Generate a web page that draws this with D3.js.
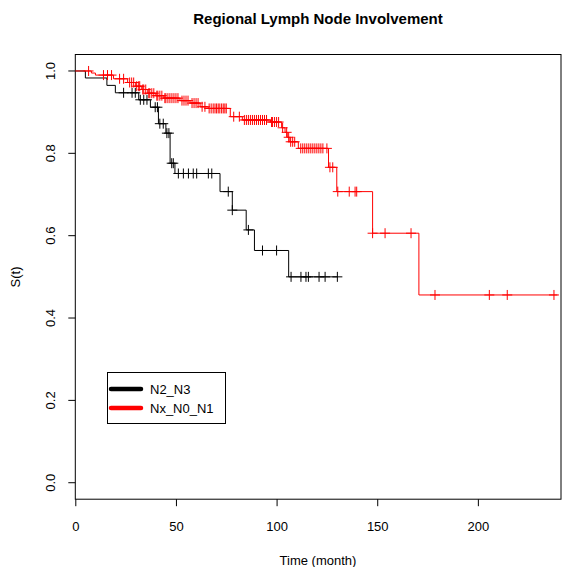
<!DOCTYPE html>
<html><head><meta charset="utf-8">
<script src="https://cdn.jsdelivr.net/npm/d3@7"></script>
<style>body{margin:0;background:#fff}svg{display:block}text{font-family:"Liberation Sans",Arial,sans-serif}</style>
</head><body><svg id="c" width="567" height="567"></svg>
<script>
const seriesNames = ["N2_N3", "Nx_N0_N1"];
const seriesColors = ["#000000", "#ff0000"];
// Kaplan-Meier steps: time of event, survival after the event
const blackTimes = [0, 5, 15.7, 19.9, 31.5, 37.3, 41.3, 45, 47.1, 49.5, 71.9, 78, 84.9, 89, 106];
const blackSurv  = [1, 0.983, 0.965, 0.947, 0.930, 0.912, 0.872, 0.849, 0.776, 0.751, 0.707, 0.662, 0.614, 0.564, 0.500];
const blackEnd = 130.2;
const blackCensor = [24, 28.2, 29.8, 32.3, 34, 35.6, 39.7, 40.8, 42, 43.7, 45.5, 46.5, 47.9, 48.7, 51.2, 53.7, 56.2, 58.6, 60.3, 66.1, 67.8, 76, 78, 86, 93, 100, 107.2, 112.1, 114.6, 115.8, 121.1, 124.1, 130.2];

const redTimes = [0, 8, 10, 19, 26, 30, 33, 36, 40, 44, 52, 57, 62, 66, 77, 83, 97, 102.5, 104.2, 105.3, 106.6, 110.8, 125.8, 129.9, 147.7, 170.7];
const redSurv  = [1, 0.995, 0.990, 0.981, 0.972, 0.963, 0.955, 0.946, 0.940, 0.934, 0.928, 0.922, 0.913, 0.909, 0.889, 0.881, 0.876, 0.862, 0.851, 0.839, 0.828, 0.812, 0.766, 0.707, 0.606, 0.456];
const redEnd = 239.5;
const redCensor = [6.6, 14, 16, 18, 22, 24, 27, 28, 29, 30.5, 31.5, 32, 33.5, 34, 35, 36.5, 37, 38, 39, 40.5, 41, 42, 43, 44.5, 45, 46, 47, 48, 49, 50, 51, 53, 54, 55, 56, 58, 59, 60, 61, 63, 64.4, 66.5, 67.5, 68.5, 69.4, 70.2, 71, 71.8, 72.7, 73.5, 74.3, 75, 78.7, 81.5, 84, 85, 86, 87, 88, 89, 90, 91, 92, 93, 94, 95, 97.5, 98, 99, 100, 101, 103, 105, 106, 107, 108, 109, 112, 113, 114, 115, 116, 117, 118, 119, 120, 121, 122, 123, 125, 126.5, 127.9, 130.4, 136.1, 139, 139.8, 147.7, 153.9, 166.8, 178.7, 205.7, 214.6, 237.8];

const xTicks = [0, 50, 100, 150, 200];
const yTicks = [0, 0.2, 0.4, 0.6, 0.8, 1.0];

const svg = d3.select("#c");
const x = d3.scaleLinear().domain([0, 241.3]).range([75.3, 561]);
const y = d3.scaleLinear().domain([-0.04, 1.04]).range([499.2, 54.5]);

// box
svg.append("rect").attr("x", 75.3).attr("y", 54.5).attr("width", 561 - 75.3).attr("height", 499.2 - 54.5)
  .attr("fill", "none").attr("stroke", "#000").attr("stroke-width", 1);

// axes
const gx = svg.append("g").attr("transform", "translate(0,499.2)")
  .call(d3.axisBottom(x).tickValues(xTicks).tickSize(7).tickPadding(16).tickFormat(d3.format("d")));
gx.select(".domain").remove();
gx.selectAll("text").attr("font-size", 13).attr("fill", "#000");

const gy = svg.append("g").attr("transform", "translate(75.3,0)")
  .call(d3.axisLeft(y).tickValues(yTicks).tickSize(7).tickFormat(d3.format(".1f")));
gy.select(".domain").remove();
gy.selectAll("text").attr("font-size", 13).attr("fill", "#000")
  .attr("text-anchor", "middle").attr("x", 0).attr("y", 0).attr("dy", 0)
  .each(function(d){ d3.select(this).attr("transform", `translate(-20,${y(d)}) rotate(-90)`); });
gy.selectAll(".tick").attr("transform", "translate(0,0)");
gy.selectAll(".tick line").attr("y1", d => y(d)).attr("y2", d => y(d));

// titles
svg.append("text").attr("x", 318).attr("y", 24).attr("text-anchor", "middle")
  .attr("font-size", 15).attr("font-weight", "bold").text("Regional Lymph Node Involvement");
svg.append("text").attr("x", 318).attr("y", 565).attr("text-anchor", "middle")
  .attr("font-size", 13).text("Time (month)");
svg.append("text").attr("transform", "translate(20,277) rotate(-90)").attr("text-anchor", "middle")
  .attr("font-size", 13).text("S(t)");

const line = d3.line().x(d => x(d[0])).y(d => y(d[1])).curve(d3.curveStepAfter);
function survAt(times, surv, t) {
  let s = surv[0];
  for (let i = 0; i < times.length; i++) if (times[i] <= t) s = surv[i];
  return s;
}
function drawCurve(times, surv, end, censor, color) {
  const pts = times.map((t, i) => [t, surv[i]]);
  pts.push([end, surv[surv.length - 1]]);
  svg.append("path").attr("d", line(pts)).attr("fill", "none").attr("stroke", color).attr("stroke-width", 1);
  const g = svg.append("g").attr("stroke", color).attr("stroke-width", 1);
  censor.forEach(c => {
    const cx = x(c), cy = y(survAt(times, surv, c));
    g.append("line").attr("x1", cx - 5).attr("x2", cx + 5).attr("y1", cy).attr("y2", cy);
    g.append("line").attr("x1", cx).attr("x2", cx).attr("y1", cy - 5).attr("y2", cy + 5);
  });
}
drawCurve(blackTimes, blackSurv, blackEnd, blackCensor, seriesColors[0]);
drawCurve(redTimes, redSurv, redEnd, redCensor, seriesColors[1]);

// legend
const lg = svg.append("g");
lg.append("rect").attr("x", 107.5).attr("y", 372.5).attr("width", 118).attr("height", 51)
  .attr("fill", "#fff").attr("stroke", "#000");
seriesNames.forEach((n, i) => {
  const yy = 389 + i * 19;
  lg.append("line").attr("x1", 111).attr("x2", 141).attr("y1", yy).attr("y2", yy)
    .attr("stroke", seriesColors[i]).attr("stroke-width", 4.5).attr("stroke-linecap", "round");
  lg.append("text").attr("x", 150).attr("y", yy + 5).attr("font-size", 13).text(n);
});
</script></body></html>
